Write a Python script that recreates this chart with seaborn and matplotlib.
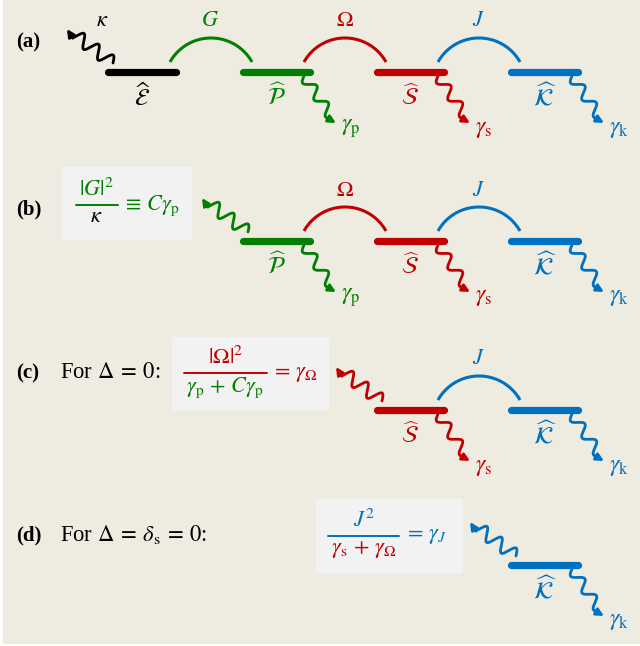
import numpy as np
import matplotlib
matplotlib.use("Agg")
import matplotlib.pyplot as plt
import seaborn as sns
from matplotlib.patches import Rectangle

# ---- diagram content -------------------------------------------------------
LEVEL_LABELS = [r"$\widehat{\mathcal{E}}$", r"$\widehat{\mathcal{P}}$",
                r"$\widehat{\mathcal{S}}$", r"$\widehat{\mathcal{K}}$"]
LEVEL_X0 = [108, 243, 377, 511]
LEVEL_X1 = [176, 310, 444, 578]
LEVEL_COLORS = ["#000000", "#008000", "#C00000", "#0070C0"]
COUPLING_LABELS = [r"$G$", r"$\Omega$", r"$J$"]
DECAY_LABELS = [None, r"$\gamma_{\mathrm{p}}$", r"$\gamma_{\mathrm{s}}$",
                r"$\gamma_{\mathrm{k}}$"]
ROW_Y = [72, 241, 410, 565]
ROW_FIRST = [0, 1, 2, 3]          # first level kept in each panel
PANEL_TAGS = ["(a)", "(b)", "(c)", "(d)"]
TAG_Y = [42, 209, 373, 535]
PANEL_CONDITIONS = [None, None, r"For $\Delta\:=\:0$:",
                    r"For $\Delta\:=\:\delta_{\mathrm{s}}\:=\:0$:"]

BG = "#EEEBE1"
BOX = "#F2F2F2"
GREEN, RED, BLUE, BLACK = LEVEL_COLORS[1], LEVEL_COLORS[2], LEVEL_COLORS[3], "#000000"
MATH_SIZE = 16

sns.set_theme(style="white")
plt.rcParams["font.family"] = ["Liberation Serif", "DejaVu Serif"]
plt.rcParams["mathtext.fontset"] = "stix"

fig = plt.figure(figsize=(6.40, 6.46), dpi=100, facecolor="white")
ax = fig.add_axes([0, 0, 1, 1])
ax.set_xlim(0, 640)
ax.set_ylim(646, 0)
ax.axis("off")
ax.add_patch(Rectangle((3, 0), 637, 643, color=BG, zorder=0))


def wavy(p0, p1, color, periods=3.0, amp=5.0, head=10):
    """Wavy photon line from p0 towards p1 ending in an arrowhead at p1."""
    p0 = np.asarray(p0, float)
    p1 = np.asarray(p1, float)
    d = p1 - p0
    L = np.hypot(*d)
    u = d / L
    n = np.array([-u[1], u[0]])
    tail = p1 - u * head
    t = np.linspace(0, 1, 300)
    base = p0[None, :] + t[:, None] * (tail - p0)[None, :]
    pts = base + (amp * np.sin(2 * np.pi * periods * t))[:, None] * n[None, :]
    ax.plot(pts[:, 0], pts[:, 1], color=color, lw=2.0, solid_capstyle="round",
            zorder=3)
    ax.annotate("", xy=p1, xytext=pts[-1],
                arrowprops=dict(arrowstyle="-|>", color=color, lw=2.0,
                                mutation_scale=11, shrinkA=0, shrinkB=0),
                zorder=3)


def arc(xa, xb, y, color):
    """Circular coupling arc joining two neighbouring levels."""
    xc = 0.5 * (xa + xb)
    half = 0.5 * (xb - xa)
    top = y - 34.0          # apex of the arc
    ye = y - 10.0           # height of both arc ends
    h = ye - top
    r = (h ** 2 + half ** 2) / (2 * h)
    yc = top + r
    a0 = np.arctan2(yc - ye, half)
    ang = np.linspace(a0, np.pi - a0, 120)
    ax.plot(xc + r * np.cos(ang), yc - r * np.sin(ang), color=color, lw=2.2,
            solid_capstyle="butt", zorder=2)


for row, y in enumerate(ROW_Y):
    first = ROW_FIRST[row]
    ax.text(16, TAG_Y[row], PANEL_TAGS[row], fontsize=15, fontweight="bold",
            va="center", ha="left", color=BLACK,
            family=["Liberation Serif", "DejaVu Serif"])
    for i in range(first, 4):
        c = LEVEL_COLORS[i]
        ax.plot([LEVEL_X0[i], LEVEL_X1[i]], [y, y], color=c, lw=5.2,
                solid_capstyle="round", zorder=4)
        ax.text(0.5 * (LEVEL_X0[i] + LEVEL_X1[i]), y + 25, LEVEL_LABELS[i],
                color=c, fontsize=MATH_SIZE + 1, ha="center", va="center")
        if DECAY_LABELS[i] is not None:
            wavy((LEVEL_X1[i] - 6, y + 4), (LEVEL_X1[i] + 26, y + 51), c,
                 periods=2.3, amp=5.2)
            ax.text(LEVEL_X1[i] + 31, y + 57, DECAY_LABELS[i], color=c,
                    fontsize=MATH_SIZE + 1, ha="left", va="center")
        if i < 3:
            arc(LEVEL_X1[i] - 6, LEVEL_X0[i + 1] + 9, y, LEVEL_COLORS[i + 1])
            ax.text(0.5 * (LEVEL_X1[i] + LEVEL_X0[i + 1]) + 1, y - 50,
                    COUPLING_LABELS[i], color=LEVEL_COLORS[i + 1],
                    fontsize=MATH_SIZE, ha="center", va="center")
    # incoming (effective) loss line on the first level of the panel
    x0 = LEVEL_X0[first]
    wavy((x0 + 5, y - 9), (x0 - 41, y - 43), LEVEL_COLORS[first],
         periods=2.6, amp=6.5)
    if row == 0:
        ax.text(x0 - 6, y - 50, r"$\kappa$", fontsize=MATH_SIZE, ha="center",
                va="center", color=BLACK)
    if PANEL_CONDITIONS[row] is not None:
        ax.text(60, TAG_Y[row], PANEL_CONDITIONS[row],
                fontsize=16.3, ha="left", va="center", color=BLACK)


def fraction(xc, ybar, half, num, den, ncol, dcol, bcol, size=MATH_SIZE):
    ax.plot([xc - half, xc + half], [ybar, ybar], color=bcol, lw=1.4, zorder=5)
    ax.text(xc, ybar - 4, num, color=ncol, fontsize=size, ha="center",
            va="bottom", zorder=5)
    ax.text(xc, ybar + 3, den, color=dcol, fontsize=size, ha="center",
            va="top", zorder=5)


# (b) effective pump loss
ax.add_patch(Rectangle((62, 167), 129, 72, color=BOX, zorder=1))
fraction(96.5, 205, 21, r"$|G|^2$", r"$\kappa$", GREEN, BLACK, GREEN)
ax.text(122, 206, r"$\equiv\, C\gamma_{\mathrm{p}}$", color=GREEN,
        fontsize=MATH_SIZE, ha="left", va="center", zorder=5)

# (c) effective signal loss
ax.add_patch(Rectangle((172, 337), 156, 72, color=BOX, zorder=1))
fraction(225.5, 373, 41.5, r"$|\Omega|^2$",
         r"$\gamma_{\mathrm{p}} \,+\, C\gamma_{\mathrm{p}}$", RED, GREEN, RED)
ax.text(271, 375, r"$=\, \gamma_{\Omega}$", color=RED, fontsize=MATH_SIZE,
        ha="left", va="center", zorder=5)

# (d) effective idler loss
ax.add_patch(Rectangle((316, 499), 146, 73, color=BOX, zorder=1))
fraction(363.5, 536, 35.5, r"$J^2$",
         r"$\gamma_{\mathrm{s}} \,+\, \gamma_{\Omega}$", BLUE, RED, BLUE)
ax.text(404, 537, r"$=\, \gamma_{J}$", color=BLUE, fontsize=MATH_SIZE,
        ha="left", va="center", zorder=5)

fig.savefig("out.png", dpi=100, facecolor=fig.get_facecolor())
